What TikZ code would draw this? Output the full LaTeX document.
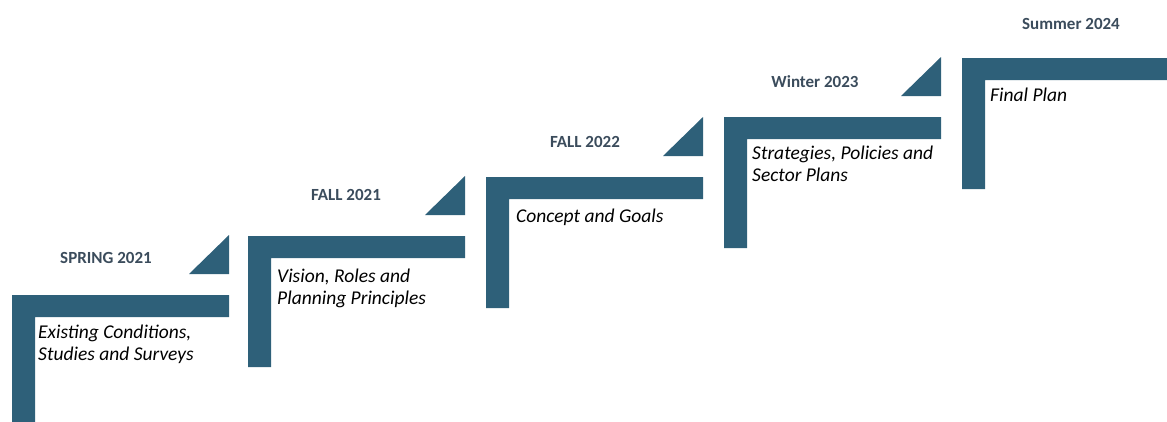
\documentclass[tikz,border=0pt]{standalone}
\usepackage{fontspec}
\setmainfont{Carlito}
\usetikzlibrary{calc}
\definecolor{stepblue}{HTML}{2E6079}
\definecolor{datetext}{HTML}{3B4C5C}

\begin{document}
\begin{tikzpicture}[x=1pt,y=-1pt,
  step bar/.style={fill=stepblue,draw=none},
  date node/.style={font=\fontsize{17}{20}\selectfont\bfseries,text=datetext,inner sep=0pt},
  task node/.style={font=\fontsize{19.5}{22}\selectfont\itshape,align=left,anchor=north west,inner sep=0pt}]

\useasboundingbox (0,0) rectangle (1167,421);

% steps of the stair
\begin{scope}
\clip (0,0) rectangle (1167,421);
\foreach \i/\x/\y in {1/12/295,2/248/236,3/486/177,4/724/117,5/962/58}{
  \fill[step bar] (\x,\y) -- ++(217,0) -- ++(0,22) -- ++(-194,0) -- ++(0,109) -- ++(-23,0) -- cycle;
}
% small wedges leading to the next step
\foreach \i/\x/\y in {1/12/295,2/248/236,3/486/177,4/724/117}{
  \fill[step bar] (\x+217,\y-21) -- ++(0,-39) -- ++(-40,39) -- cycle;
}
\end{scope}

% dates above the steps
\foreach \i/\x/\y/\date in {1/106/258/SPRING 2021,2/346/195/FALL 2021,3/585/142/FALL 2022,
  4/815/82/Winter 2023,5/1071/24/Summer 2024}{
  \node[date node] (date\i) at (\x,\y) {\date};
}

% what each step stands for
\foreach \i/\x/\y/\task in {1/38/325/{Existing Conditions,\\Studies and Surveys},
  2/277/269/{Vision, Roles and\\Planning Principles},3/516/209/{Concept and Goals},
  4/752/146/{Strategies, Policies and\\Sector Plans},5/990/88/{Final Plan}}{
  \node[task node] (task\i) at (\x,\y) {\task};
}
\end{tikzpicture}
\end{document}
